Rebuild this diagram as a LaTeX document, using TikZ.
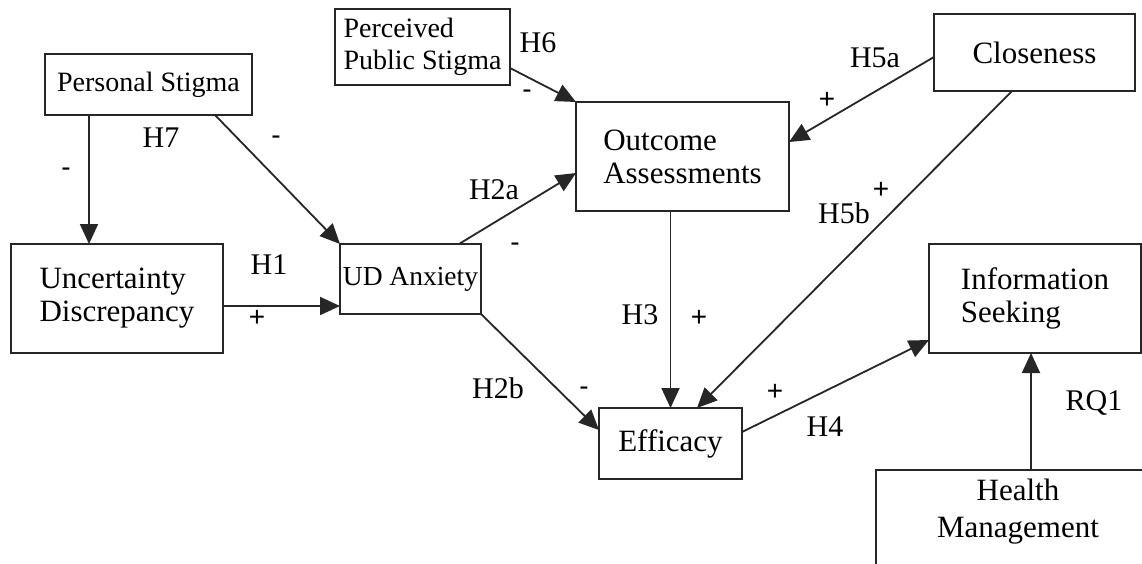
\documentclass[tikz,border=0pt]{standalone}
\usepackage{fontspec}
\setmainfont{Liberation Serif}
\newfontfamily\signfont{Liberation Sans}
\usetikzlibrary{arrows.meta}
\definecolor{linec}{HTML}{262626}
\tikzset{
  box/.style={draw=linec, line width=1.6pt, rectangle, inner sep=0pt, outer sep=0pt,
    font=\fontsize{31}{33}\selectfont, align=left},
  lbl/.style={font=\fontsize{30}{32}\selectfont, inner sep=0pt},
  sgn/.style={font=\signfont\fontsize{28}{30}\selectfont, inner sep=0pt},
  arr/.style={draw=linec, line width=1.8pt, -{Triangle[length=20pt,width=18pt]}},
}
\begin{document}
\begin{tikzpicture}[x=1pt,y=-1pt]
\clip (0,0) rectangle (1142,563);
\fill[white] (0,0) rectangle (1142,563);

% boxes
\node[box, minimum width=207pt, minimum height=61pt, font=\fontsize{28}{30}\selectfont] (ps) at (148.5,84.5) {Personal Stigma};
\node[box, minimum width=175pt, minimum height=76pt, font=\fontsize{28}{32}\selectfont] (pps) at (422.5,47) {Perceived\\Public Stigma};
\node[box, minimum width=201pt, minimum height=77pt] (cl) at (1034.5,52.5) {Closeness};
\node[box, minimum width=213pt, minimum height=109pt] (oa) at (682.5,156.5) {Outcome\\Assessments};
\node[box, minimum width=212pt, minimum height=109pt] (udisc) at (117,298.5) {Uncertainty\\Discrepancy};
\node[box, minimum width=141pt, minimum height=70pt, font=\fontsize{27.5}{30}\selectfont] (uda) at (410.5,279) {UD Anxiety};
\node[box, minimum width=143pt, minimum height=71pt] (eff) at (670.5,443.5) {Efficacy};
\node[box, minimum width=212pt, minimum height=109pt] (is) at (1035,298.5) {Information\\Seeking};
\node[box, minimum width=300pt, minimum height=120pt, anchor=north west] (hmbox) at (876,470) {};
\node[font=\fontsize{31}{37}\selectfont, align=center, inner sep=0pt] (hm) at (1018,512) {Health\\Management};

% connectors
\draw[arr] ([xshift=-59.5pt]ps.south) -- ([xshift=-59.5pt]ps.south |- udisc.north);
\draw[arr] ([xshift=-37pt]ps.south east) -- (uda.north west);
\draw[arr] ([yshift=-21pt]pps.east) -- (oa.north west);
\draw[arr] ([xshift=-22pt]uda.north east) -- ([yshift=-16.5pt]oa.west);
\draw[arr] ([yshift=-7.5pt]udisc.east) -- ([yshift=-7.5pt]udisc.east -| uda.west);
\draw[arr] (uda.south east) -- ([yshift=13.5pt]eff.west);
\draw[arr] (eff.north |- oa.south) -- (eff.north);
\draw[arr] ([yshift=-4.5pt]cl.west) -- ([yshift=14.5pt]oa.east);
\draw[arr] ([xshift=-22.5pt]cl.south) -- ([xshift=26.5pt]eff.north);
\draw[arr] ([yshift=11.5pt]eff.east) -- ([yshift=-41.5pt]is.west);
\draw[arr] ([xshift=-4pt]is.south |- hmbox.north) -- ([xshift=-4pt]is.south);

% labels
\node[lbl] (h6) at (538,43) {H6};
\node[sgn] (m6) at (527,94) {-};
\node[lbl] (h7) at (161,138) {H7};
\node[sgn] (m7a) at (66,172) {-};
\node[sgn] (m7b) at (276,140) {-};
\node[lbl] (h2a) at (494,190) {H2a};
\node[sgn] (m2a) at (515,247) {-};
\node[lbl] (h1) at (269,265) {H1};
\node[sgn] (p1) at (257,318) {+};
\node[lbl] (h2b) at (498,388) {H2b};
\node[sgn] (m2b) at (584,391) {-};
\node[lbl] (h3) at (640,315) {H3};
\node[sgn] (p3) at (699,318) {+};
\node[lbl] (h5a) at (875,58) {H5a};
\node[sgn] (p5a) at (827,100) {+};
\node[sgn] (p5b) at (881,190) {+};
\node[lbl] (h5b) at (844,213) {H5b};
\node[sgn] (p4) at (775,392) {+};
\node[lbl] (h4) at (825,427) {H4};
\node[lbl] (rq1) at (1094,403) {RQ1};
\end{tikzpicture}
\end{document}
